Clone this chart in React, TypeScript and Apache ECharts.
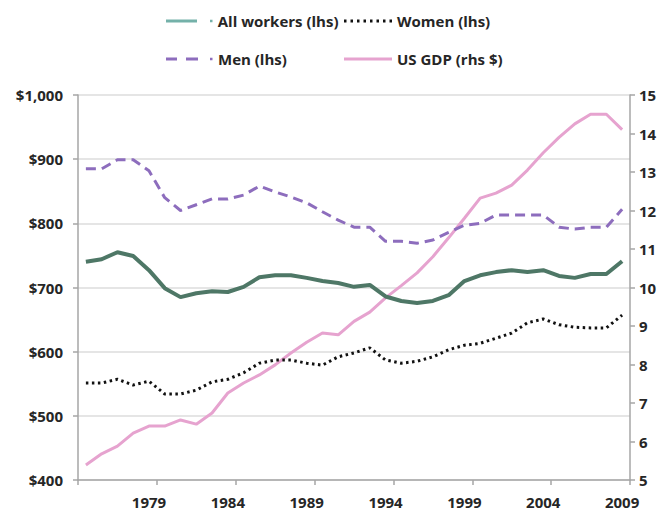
import React, { useEffect, useRef } from "react";
import * as echarts from "echarts";

const years = [
  "1975", "1976", "1977", "1978", "1979", "1980", "1981", "1982", "1983", "1984",
  "1985", "1986", "1987", "1988", "1989", "1990", "1991", "1992", "1993", "1994",
  "1995", "1996", "1997", "1998", "1999", "2000", "2001", "2002", "2003", "2004",
  "2005", "2006", "2007", "2008", "2009",
];

const allWorkers = [
  740, 744, 755, 749, 727, 699, 685, 691, 694, 693,
  701, 716, 719, 719, 715, 710, 707, 701, 704, 686,
  679, 676, 679, 688, 710, 719, 724, 727, 724, 727,
  718, 715, 721, 721, 741,
];

const women = [
  551, 551, 557, 548, 554, 534, 534, 540, 553, 557,
  567, 582, 587, 587, 582, 579, 592, 598, 606, 587,
  582, 585, 592, 603, 610, 613, 621, 629, 645, 651,
  642, 638, 637, 637, 657,
];

const men = [
  885, 885, 899, 899, 882, 840, 820, 829, 838, 838,
  844, 858, 849, 841, 832, 818, 805, 794, 794, 772,
  772, 769, 774, 786, 797, 800, 813, 813, 813, 813,
  794, 791, 794, 794, 822,
];

const usGdp = [
  5.39, 5.68, 5.88, 6.22, 6.4, 6.4, 6.56, 6.45, 6.74, 7.26,
  7.52, 7.73, 7.99, 8.3, 8.58, 8.82, 8.77, 9.12, 9.36, 9.73,
  10.05, 10.38, 10.8, 11.29, 11.8, 12.32, 12.45, 12.66, 13.05, 13.5,
  13.9, 14.25, 14.5, 14.5, 14.1,
];

const seriesNames = ["All workers (lhs)", "Women (lhs)", "Men (lhs)", "US GDP (rhs $)"];

const FONT = "Open Sans";
const TEXT = "#262626";

export default function App() {
  const ref = useRef<HTMLDivElement>(null);

  useEffect(() => {
    if (!ref.current) return;
    const chart = echarts.init(ref.current, undefined, { renderer: "svg" });

    const legendText = {
      fontFamily: FONT,
      fontSize: 15,
      fontWeight: "bold" as const,
      color: TEXT,
      lineHeight: 16,
    };

    const mkLegend = (name: string, left: number, top: number, width: number, icon: string, color: string) => ({
      left,
      top,
      padding: 0,
      itemWidth: width,
      itemHeight: 3,
      itemGap: 0,
      textStyle: legendText,
      data: [
        {
          name,
          icon,
          itemStyle: { color, borderWidth: 0 },
        },
      ],
    });

    let womenIcon = "path://";
    for (let i = 0; i < 8; i++) {
      const x = i * 6.5;
      womenIcon += `M${x},0h2.5v3h-2.5z `;
    }

    chart.setOption({
      animation: false,
      backgroundColor: "#ffffff",
      legend: [
        mkLegend(seriesNames[0], 166, 13, 47, "path://M0,0h31v3h-31z M44,0.25h2.5v2.5h-2.5z M46.5,0v3z", "#74b1a9"),
        mkLegend(seriesNames[1], 344, 13, 48, womenIcon, "#111111"),
        mkLegend(seriesNames[2], 166, 51, 47, "path://M0,0h11v3h-11z M20,0h12v3h-12z M44,0.25h2.5v2.5h-2.5z M47,0v3z", "#8d6dbd"),
        mkLegend(seriesNames[3], 344, 51, 48, "path://M0,0h48v3h-48z", "#e6a3cf"),
      ],
      grid: { left: 78, right: 38, top: 95, bottom: 32, containLabel: false },
      xAxis: {
        type: "category",
        data: years,
        boundaryGap: true,
        axisLine: { show: true, lineStyle: { color: "#a6a6a6", width: 1.5 } },
        axisTick: {
          show: true,
          length: 5,
          alignWithLabel: false,
          interval: (index: number) => index % 5 === 0,
          lineStyle: { color: "#a6a6a6", width: 1.5 },
        },
        axisLabel: {
          interval: (index: number) => index % 5 === 4,
          margin: 14,
          fontFamily: FONT,
          fontSize: 15,
          fontWeight: "bold",
          color: TEXT,
        },
        splitLine: { show: false },
      },
      yAxis: [
        {
          type: "value",
          min: 400,
          max: 1000,
          interval: 100,
          position: "left",
          axisLine: { show: true, lineStyle: { color: "#a6a6a6", width: 1.5 } },
          axisTick: { show: true, length: 5, lineStyle: { color: "#a6a6a6", width: 1.5 } },
          axisLabel: {
            margin: 15,
            fontFamily: FONT,
            fontSize: 15,
            fontWeight: "bold",
            color: TEXT,
            formatter: (v: number) => "$" + v.toLocaleString("en-US"),
          },
          splitLine: { show: true, lineStyle: { color: "#dcdcdc", width: 1.5 } },
        },
        {
          type: "value",
          min: 5,
          max: 15,
          interval: 1,
          position: "right",
          axisLine: { show: true, lineStyle: { color: "#a6a6a6", width: 1.5 } },
          axisTick: { show: true, length: 5, lineStyle: { color: "#a6a6a6", width: 1.5 } },
          axisLabel: {
            margin: 9,
            fontFamily: FONT,
            fontSize: 15,
            fontWeight: "bold",
            color: TEXT,
          },
          splitLine: { show: false },
        },
      ],
      series: [
        {
          name: seriesNames[0],
          type: "line",
          data: allWorkers,
          yAxisIndex: 0,
          symbol: "none",
          color: "#4e7766",
          lineStyle: { color: "#4e7766", width: 4 },
          z: 3,
        },
        {
          name: seriesNames[1],
          type: "line",
          data: women,
          yAxisIndex: 0,
          symbol: "none",
          color: "#111111",
          lineStyle: { color: "#111111", width: 3, type: [2.5, 3.5] },
          z: 3,
        },
        {
          name: seriesNames[2],
          type: "line",
          data: men,
          yAxisIndex: 0,
          symbol: "none",
          color: "#8d6dbd",
          lineStyle: { color: "#8d6dbd", width: 3, type: [10, 6] },
          z: 3,
        },
        {
          name: seriesNames[3],
          type: "line",
          data: usGdp,
          yAxisIndex: 1,
          symbol: "none",
          color: "#e6a3cf",
          lineStyle: { color: "#e6a3cf", width: 3 },
          z: 2,
        },
      ],
    });

    return () => chart.dispose();
  }, []);

  return (
    <div
      ref={ref}
      style={{ position: "absolute", left: 0, top: 0, width: 668, height: 512 }}
    />
  );
}
